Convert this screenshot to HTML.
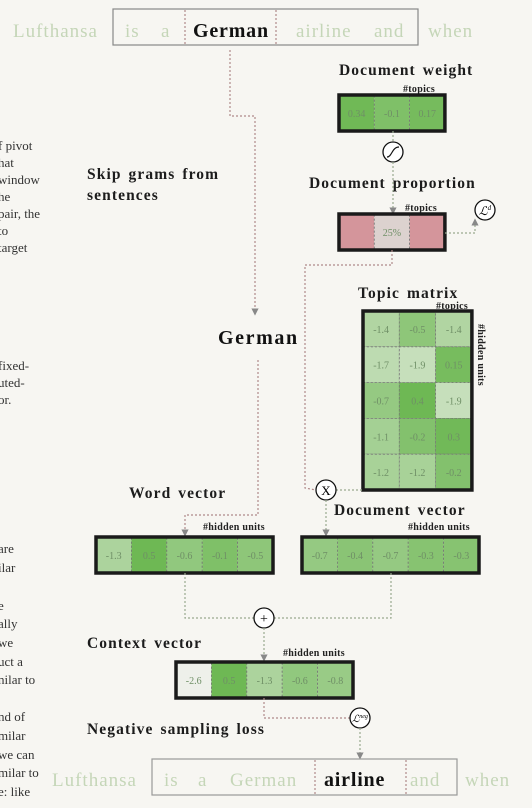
<!DOCTYPE html>
<html><head><meta charset="utf-8">
<style>
html,body{margin:0;padding:0;background:#f7f6f2;}
svg{display:block;font-family:"Liberation Serif","DejaVu Serif",serif;}
.t{font-weight:bold;font-size:15.5px;fill:#1c1c1c;letter-spacing:1.1px;word-spacing:2px;}
.h{font-weight:bold;font-size:10px;fill:#222;letter-spacing:0.3px;}
.w{font-size:19px;fill:#c5d6b8;letter-spacing:1px;}
.side{font-size:13px;fill:#333;}
.dl{fill:none;stroke:#b08a8a;stroke-width:1.2;stroke-dasharray:2,2;}
.dg{fill:none;stroke:#9aaa90;stroke-width:1.2;stroke-dasharray:2,2;}
.cv{font-size:10px;text-anchor:middle;fill:#6f8f66;}
</style></head>
<body>
<svg id="s" width="532" height="808" viewBox="0 0 532 808">
<defs><marker id="ar" markerWidth="6" markerHeight="6" refX="3" refY="3" orient="auto"><path d="M0,0 L6,3 L0,6z" fill="#888"/></marker></defs>

<g class="side">
<text x="-2" y="150">f pivot</text><text x="-2" y="167">hat</text><text x="-2" y="184"> window</text>
<text x="-2" y="201">he</text><text x="-2" y="218">pair, the</text><text x="-2" y="235"> to</text><text x="-2" y="252"> target</text>
<text x="-2" y="370">fixed-</text><text x="-2" y="387">uted-</text><text x="-2" y="404">or.</text>
<text x="-2" y="553">are</text><text x="-2" y="572">ilar</text><text x="-2" y="610">e</text><text x="-2" y="628">ally</text>
<text x="-2" y="647"> we</text><text x="-2" y="666">uct a</text><text x="-2" y="684">nilar to</text>
<text x="-2" y="721">nd of</text><text x="-2" y="740">milar</text><text x="-2" y="759">we can</text><text x="-2" y="777">milar to</text><text x="-2" y="796">e: like</text>
</g>

<g>
<rect x="113" y="9" width="305" height="36" fill="none" stroke="#888" stroke-width="1.2"/>
<line x1="185" y1="10" x2="185" y2="44" class="dl"/><line x1="276" y1="10" x2="276" y2="44" class="dl"/>
<text class="w" x="13" y="37">Lufthansa</text><text class="w" x="125" y="37">is</text><text class="w" x="161" y="37">a</text>
<text x="193" y="37" font-size="20" font-weight="bold" fill="#111" letter-spacing="0.8">German</text>
<text class="w" x="296" y="37">airline</text><text class="w" x="374" y="37">and</text><text class="w" x="428" y="37">when</text>
</g>

<polyline class="dl" points="230,50 230,116 255,116 255,312" marker-end="url(#ar)"/>
<text x="87" y="179" class="t">Skip grams from</text>
<text x="87" y="200" class="t">sentences</text>
<text x="218" y="344" font-size="20" font-weight="bold" fill="#111" letter-spacing="1.6">German</text>
<polyline class="dl" points="258,360 258,515 185,515 185,533" marker-end="url(#ar)"/>

<text x="339" y="75" class="t">Document weight</text>
<text x="403" y="92" class="h">#topics</text>
<g id="dw"></g>
<line class="dg" x1="393" y1="131" x2="393" y2="142"/>
<circle cx="393" cy="152" r="10" fill="#fff" stroke="#111" stroke-width="1.3"/>
<path d="M387,157 C392,157 392,147 399,147" fill="none" stroke="#111" stroke-width="1.2"/>
<line class="dg" x1="393" y1="162" x2="393" y2="211" marker-end="url(#ar)"/>
<text x="309" y="188" class="t">Document proportion</text>
<text x="405" y="211" class="h">#topics</text>
<g id="dp"></g>
<polyline class="dg" points="445,233 475,233 475,222" marker-end="url(#ar)"/>
<circle cx="485" cy="210" r="10" fill="#fff" stroke="#111" stroke-width="1.3"/>
<text x="485" y="215" font-size="12" font-style="italic" text-anchor="middle">ℒ<tspan font-size="7" dy="-5">d</tspan></text>
<polyline class="dl" points="392,250 392,265 305,265 305,488 316,490"/>

<text x="358" y="298" class="t">Topic matrix</text>
<text x="436" y="309" class="h">#topics</text>
<text transform="translate(478,324) rotate(90)" class="h">#hidden units</text>
<g id="tm"></g>
<line class="dg" x1="336" y1="490" x2="363" y2="490"/>
<circle cx="326" cy="490" r="10" fill="#fff" stroke="#111" stroke-width="1.3"/>
<text x="326" y="495" font-size="13" text-anchor="middle">X</text>
<line class="dg" x1="326" y1="500" x2="326" y2="533" marker-end="url(#ar)"/>

<text x="129" y="498" class="t">Word vector</text>
<text x="203" y="530" class="h">#hidden units</text>
<text x="334" y="515" class="t">Document vector</text>
<text x="408" y="530" class="h">#hidden units</text>
<g id="wv"></g><g id="dv"></g>

<polyline class="dg" points="185,573 185,618 254,618"/>
<polyline class="dg" points="391,573 391,618 274,618"/>
<circle cx="264" cy="618" r="10" fill="#fff" stroke="#111" stroke-width="1.3"/>
<text x="264" y="623" font-size="14" text-anchor="middle">+</text>
<line class="dg" x1="264" y1="628" x2="264" y2="658" marker-end="url(#ar)"/>
<text x="87" y="648" class="t">Context vector</text>
<text x="283" y="656" class="h">#hidden units</text>
<g id="cv"></g>
<polyline class="dl" points="264,698 264,718 350,718"/>
<circle cx="360" cy="718" r="10" fill="#fff" stroke="#111" stroke-width="1.3"/>
<text x="360" y="722" font-size="10" font-style="italic" text-anchor="middle">ℒ<tspan font-size="6" dy="-4">neg</tspan></text>
<line class="dg" x1="360" y1="728" x2="360" y2="756" marker-end="url(#ar)"/>
<text x="87" y="734" class="t">Negative sampling loss</text>

<g>
<rect x="152" y="759" width="305" height="36" fill="none" stroke="#999" stroke-width="1.2"/>
<line x1="315" y1="760" x2="315" y2="794" class="dl"/><line x1="406" y1="760" x2="406" y2="794" class="dl"/>
<text class="w" x="52" y="786">Lufthansa</text><text class="w" x="164" y="786">is</text><text class="w" x="198" y="786">a</text>
<text class="w" x="230" y="786">German</text>
<text x="324" y="786" font-size="20" font-weight="bold" fill="#111" letter-spacing="0.8">airline</text>
<text class="w" x="410" y="786">and</text><text class="w" x="465" y="786">when</text>
</g>
</svg>
<script>
const docWeight = [0.34, -0.1, 0.17];
const docProportion = ["", "25%", ""];
const topicMatrix = [[-1.4,-0.5,-1.4],[-1.7,-1.9,0.15],[-0.7,0.4,-1.9],[-1.1,-0.2,0.3],[-1.2,-1.2,-0.2]];
const wordVector = [-1.3, 0.5, -0.6, -0.1, -0.5];
const docVector = [-0.7, -0.4, -0.7, -0.3, -0.3];
const contextVector = [-2.6, 0.5, -1.3, -0.6, -0.8];

const NS = "http://www.w3.org/2000/svg";
function color(v){
  const t = Math.max(0, Math.min(1, (v + 2.6) / 3.0));
  const a=[238,240,234], b=[110,184,84];
  return "rgb("+a.map((c,i)=>Math.round(c+(b[i]-c)*Math.pow(t,0.8))).join(",")+")";
}
function mk(tag, attrs, parent){const e=document.createElementNS(NS,tag);for(const k in attrs)e.setAttribute(k,attrs[k]);parent.appendChild(e);return e;}
function grid(id, rows, x0, y0, cw, ch, fills, name){
  const g=document.getElementById(id);
  rows.forEach((row,r)=>row.forEach((v,c)=>{
    const rect=mk("rect",{x:x0+c*cw,y:y0+r*ch,width:cw,height:ch,fill:fills?fills[c]:color(v),stroke:"#777","stroke-width":0.8,"stroke-dasharray":"2,2"},g);
    
    
    const t=mk("text",{x:x0+c*cw+cw/2,y:y0+r*ch+ch/2+4,class:"cv"},g);
    t.textContent=String(v);
    if(fills&&c===1)t.setAttribute("fill","#d57f8a");
  }));
  const ncol=rows[0].length;
  const b=mk("rect",{x:x0,y:y0,width:cw*ncol,height:ch*rows.length,fill:"none",stroke:"#1a1a1a","stroke-width":3.5},g);
  
  
}
grid("dw",[docWeight],339,95,35.3,36,null,"document-weight");
grid("dp",[docProportion],339,214,35.3,36,["#d4959b","#dcd2cf","#d4959b"],"document-proportion");
grid("tm",topicMatrix,363,311,36.3,35.8,null,"topic-matrix");
grid("wv",[wordVector],96,537,35.4,36,null,"word-vector");
grid("dv",[docVector],302,537,35.4,36,null,"document-vector");
grid("cv",[contextVector],176,662,35.4,36,null,"context-vector");
</script>
</body></html>
